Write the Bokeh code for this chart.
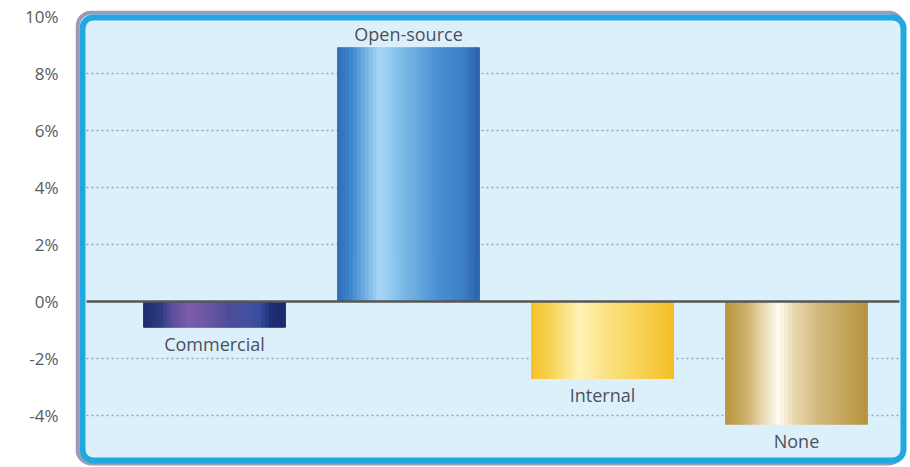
from bokeh.plotting import figure
from bokeh.models import Range1d, FixedTicker
from bokeh.core.properties import value
from bokeh.embed import file_html
from bokeh.resources import INLINE

# ---- data ----
categories = ["Commercial", "Open-source", "Internal", "None"]
values = [-0.9, 8.9, -2.7, -4.3]
y_ticks = [10, 8, 6, 4, 2, 0, -2, -4, -6]
y_tick_labels = ["10%", "8%", "6%", "4%", "2%", "0%", "-2%", "-4%", "-6%"]
grid_values = [8, 6, 4, 2, -2, -4]

# ---- styles ----
gradients = {
    "Commercial": [(0.0, "#1c2b6c"), (0.12, "#2c3a82"), (0.2, "#5a4e9c"), (0.32, "#7d5cab"),
                   (0.45, "#6c58a4"), (0.6, "#4f4c9a"), (0.72, "#44509f"), (0.82, "#3a4c9c"),
                   (0.9, "#1f3078"), (1.0, "#1a2968")],
    "Open-source": [(0.0, "#2d6cb6"), (0.1, "#3f88cc"), (0.3, "#a8d8f6"), (0.45, "#80bde8"),
                    (0.7, "#4b92d3"), (0.9, "#3b7dc5"), (1.0, "#2a63ab")],
    "Internal": [(0.0, "#f4c128"), (0.15, "#f8d55a"), (0.35, "#fff4b8"), (0.5, "#fbe48c"),
                 (0.7, "#f8d762"), (0.9, "#f6c73c"), (1.0, "#f2bc28")],
    "None": [(0.0, "#b7963c"), (0.15, "#cdb06a"), (0.3, "#efe3c4"), (0.38, "#fffbf2"),
             (0.48, "#eadab2"), (0.65, "#d3b980"), (0.85, "#c4a458"), (1.0, "#b6933e")],
}

W, H = 908, 466
ML, MR, MT, MB = 75, 0, 10, 0
X0, X1 = 0.2835, 4.5773
Y0, Y1 = -5.79, 10.21
kx = (X1 - X0) / (W - ML - MR)   # data units per pixel
ky = (Y1 - Y0) / (H - MT - MB)
BAR_W = 0.73
N_STRIPS = 36
FONT = "Open Sans"


def hex2rgb(h):
    h = h.lstrip("#")
    return tuple(int(h[i:i + 2], 16) for i in (0, 2, 4))


def interp(stops, t):
    for (t0, c0), (t1, c1) in zip(stops[:-1], stops[1:]):
        if t0 <= t <= t1:
            f = 0 if t1 == t0 else (t - t0) / (t1 - t0)
            a, b = hex2rgb(c0), hex2rgb(c1)
            return "#%02x%02x%02x" % tuple(round(a[k] + (b[k] - a[k]) * f) for k in range(3))
    return stops[-1][1]


p = figure(width=W, height=H, x_range=Range1d(X0, X1), y_range=Range1d(Y0, Y1),
           output_backend="svg", toolbar_location=None, x_axis_location=None,
           min_border_left=ML, min_border_right=MR, min_border_top=MT, min_border_bottom=MB)
p.grid.visible = False
p.outline_line_color = None
p.background_fill_color = "white"
p.border_fill_color = "white"

# rounded frame: grey shadow on the top/left, cyan rim on top
p.quad(left=X0 + 2 * kx, right=X1 - 6 * kx, top=Y1 - 2 * ky, bottom=Y0 + 3 * ky,
       fill_color="#dcf0fc", line_color="#9c9ab4", line_width=4, border_radius=14)
p.quad(left=X0 + 7 * kx, right=X1 - 5 * kx, top=Y1 - 7 * ky, bottom=Y0 + 6 * ky,
       fill_color="#dcf0fc", line_color="#22a8e0", line_width=6, border_radius=11)

# dotted grid
gx0, gx1 = X0 + 11 * kx, X1 - 9 * kx
p.segment(x0=[gx0] * len(grid_values), y0=grid_values, x1=[gx1] * len(grid_values), y1=grid_values,
          line_color="#9aa2aa", line_width=1.5, line_dash="2 3")

# bars with gradient strips
positions = [i + 1 for i in range(len(categories))]
xs, tops, bottoms, colors = [], [], [], []
sw = BAR_W / N_STRIPS
for cat, pos, v in zip(categories, positions, values):
    for j in range(N_STRIPS):
        t = (j + 0.5) / N_STRIPS
        xs.append(pos - BAR_W / 2 + (j + 0.5) * sw)
        tops.append(max(v, 0))
        bottoms.append(min(v, 0))
        colors.append(interp(gradients[cat], t))
p.vbar(x=xs, top=tops, bottom=bottoms, width=sw, fill_color=colors,
       line_color=colors, line_width=1.2)

# zero line
p.segment(x0=[gx0], y0=[0], x1=[gx1], y1=[0], line_color="#565656", line_width=2.5)

# category labels
label_y = [v + 14 * ky if v > 0 else v - 17 * ky for v in values]
p.text(x=positions, y=label_y, text=categories, text_align="center", text_baseline="middle",
       text_font=value(FONT), text_font_size="18px", text_color="#4d5058")

# y axis
ax = p.yaxis[0]
ax.ticker = FixedTicker(ticks=y_ticks)
ax.major_label_overrides = {t: l for t, l in zip(y_ticks, y_tick_labels)}
ax.axis_line_color = None
ax.major_tick_line_color = None
ax.minor_tick_line_color = None
ax.major_tick_out = 0
ax.major_tick_in = 0
ax.major_label_standoff = 17
ax.major_label_text_font = FONT
ax.major_label_text_font_size = "17px"
ax.major_label_text_color = "#5a5a5a"

open("out.html", "w").write(file_html(p, INLINE))
